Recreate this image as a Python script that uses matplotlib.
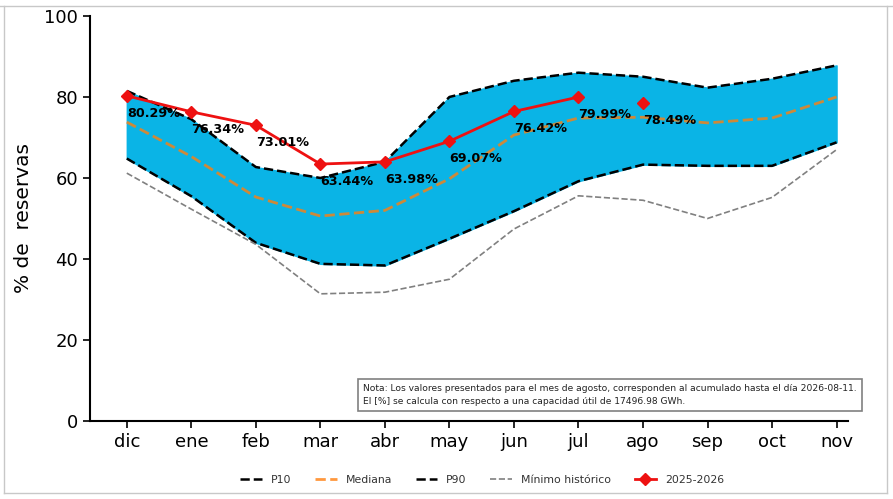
import matplotlib
matplotlib.use("Agg")
import matplotlib.pyplot as plt
from matplotlib.lines import Line2D
import numpy as np

months = ["dic", "ene", "feb", "mar", "abr", "may", "jun", "jul", "ago", "sep", "oct", "nov"]
p90 = [81.5, 74.5, 62.7, 60.0, 64.0, 80.0, 84.0, 86.0, 85.0, 82.3, 84.5, 87.8]
p10 = [64.8, 55.5, 44.0, 38.8, 38.4, 45.0, 51.8, 59.2, 63.3, 63.0, 63.0, 68.8]
mediana = [73.8, 65.3, 55.3, 50.6, 52.0, 59.8, 70.6, 74.8, 75.0, 73.6, 74.8, 80.0]
minimo = [61.2, 52.3, 43.6, 31.4, 31.8, 35.0, 47.4, 55.6, 54.5, 50.0, 55.2, 67.0]
actual = [80.29, 76.34, 73.01, 63.44, 63.98, 69.07, 76.42, 79.99]
actual_ago = [78.49]

x = np.arange(len(months))
xa = x[:len(actual)]
xg = [x[8]]

fig = plt.figure(figsize=(8.93, 4.99), dpi=100)
ax = fig.add_axes([0.1008, 0.1563, 0.849, 0.8117])

ax.fill_between(x, p10, p90, color="#0AB4E6", zorder=1)
ax.plot(x, p10, color="black", ls="--", lw=1.8, label="P10", zorder=2)
ax.plot(x, mediana, color="#ff7f0e", alpha=0.8, ls="--", lw=2.0, label="Mediana", zorder=2)
ax.plot(x, p90, color="black", ls="--", lw=1.8, label="P90", zorder=2)
ax.plot(x, minimo, color="grey", ls="--", lw=1.2, label="Mínimo histórico", zorder=2)
ax.plot(xa, actual, color="#EE1111", lw=2.0, marker="D", ms=6, label="2025-2026", zorder=3)
ax.plot(xg, actual_ago, color="#EE1111", lw=0, marker="D", ms=6, zorder=3)

for xi, v in list(zip(xa, actual)) + list(zip(xg, actual_ago)):
    ax.annotate(f"{v:.2f}%", (xi, v), xytext=(0, -12.5), textcoords="offset points",
                ha="left", va="center", fontsize=9.2, fontweight="bold", color="black", zorder=4)

ax.set_xlim(-0.57, 11.18)
ax.set_ylim(0, 100)
ax.set_xticks(x)
ax.set_xticklabels(months)
ax.set_yticks([0, 20, 40, 60, 80, 100])
ax.tick_params(axis="both", labelsize=13, length=5, width=1.2)
ax.spines["top"].set_visible(False)
ax.spines["right"].set_visible(False)
ax.spines["left"].set_linewidth(1.5)
ax.spines["bottom"].set_linewidth(1.5)
ax.set_ylabel("% de  reservas", fontsize=14.5, labelpad=8)

fig.text(0.4065, 0.2084,
         "Nota: Los valores presentados para el mes de agosto, corresponden al acumulado hasta el día 2026-08-11.\n"
         "El [%] se calcula con respecto a una capacidad útil de 17496.98 GWh.",
         fontsize=6.55, ha="left", va="center", color="#222222", linespacing=1.45,
         bbox=dict(boxstyle="square,pad=0.6", fc="white", ec="grey", lw=1.2))

handles, labels = ax.get_legend_handles_labels()
fig.legend(handles, labels, loc="center", bbox_to_anchor=(0.54, 0.038), ncol=5,
           frameon=False, fontsize=7.8, handlelength=2.0, columnspacing=2.2,
           labelcolor="#333333")

col = "#C8C8C8"
fig.add_artist(Line2D([0, 1], [1 - 6/499, 1 - 6/499], color=col, lw=1, transform=fig.transFigure))
fig.add_artist(Line2D([4/893, 4/893], [1 - 6/499, 1 - 493/499], color=col, lw=1, transform=fig.transFigure))
fig.add_artist(Line2D([887/893, 887/893], [1 - 6/499, 1 - 493/499], color=col, lw=1, transform=fig.transFigure))
fig.add_artist(Line2D([4/893, 887/893], [1 - 493/499, 1 - 493/499], color=col, lw=1, transform=fig.transFigure))

fig.savefig("out.png", dpi=100)
